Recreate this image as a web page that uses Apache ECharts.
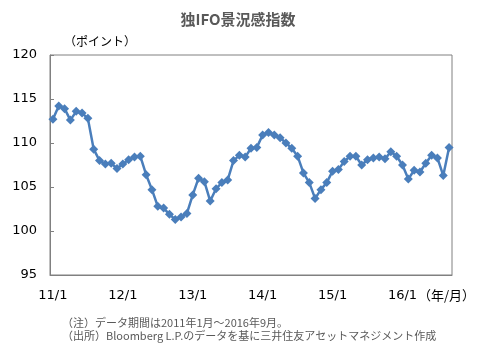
<!DOCTYPE html>
<html>
<head>
<meta charset="utf-8">
<script src="https://cdn.jsdelivr.net/npm/echarts@6/dist/echarts.min.js"></script>
<style>html,body{margin:0;padding:0;background:#fff;}#c{width:486px;height:359px;}</style>
</head>
<body>
<div id="c"></div>
<script>
// Monthly, 2011/1 .. 2016/9
const startYear = 2011;
const monthCount = 69;
const values = [
  112.7, 114.2, 113.9, 112.6, 113.6, 113.4, 112.8, 109.3, 108.0, 107.6, 107.7, 107.1,
  107.6, 108.1, 108.4, 108.5, 106.4, 104.7, 102.8, 102.6, 101.9, 101.3, 101.6, 102.0,
  104.1, 106.0, 105.6, 103.4, 104.8, 105.5, 105.8, 108.0, 108.6, 108.4, 109.4, 109.5,
  110.9, 111.2, 110.9, 110.6, 110.0, 109.4, 108.5, 106.6, 105.5, 103.7, 104.7, 105.5,
  106.8, 107.0, 107.9, 108.5, 108.5, 107.5, 108.1, 108.3, 108.4, 108.2, 109.0, 108.5,
  107.5, 105.9, 106.9, 106.7, 107.7, 108.6, 108.3, 106.3, 109.5
];
const yTicks = [95, 100, 105, 110, 115, 120];
const categories = [];
for (let i = 0; i < monthCount; i++) {
  const y = startYear + Math.floor(i / 12);
  const m = (i % 12) + 1;
  categories.push(String(y).slice(2) + '/' + m);
}
const titleText = '独IFO景況感指数';
const unitText = '（ポイント）';
const xUnitText = '（年/月）';
const notes = ['（注）データ期間は2011年1月～2016年9月。', '（出所）Bloomberg L.P.のデータを基に三井住友アセットマネジメント作成'];

const chart = echarts.init(document.getElementById('c'), null, {renderer: 'canvas'});
const jp = '"Noto Sans CJK JP", "DejaVu Sans", sans-serif';
const num = '"DejaVu Sans", sans-serif';
const showLabel = (idx) => idx % 12 === 0;
chart.setOption({
  animation: false,
  backgroundColor: '#ffffff',
  title: {
    text: titleText, left: 233, top: 7, textAlign: 'center',
    textStyle: {fontFamily: jp, fontSize: 15, fontWeight: 'bold', color: '#595959'}
  },
  grid: {left: 50, right: 34, top: 55, bottom: 84, show: true, borderColor: '#808080', borderWidth: 1},
  xAxis: {
    type: 'category', data: categories, boundaryGap: true,
    axisLine: {lineStyle: {color: '#808080', width: 1}},
    axisTick: {inside: true, length: 4, interval: showLabel, lineStyle: {color: '#808080'}},
    axisLabel: {interval: showLabel, margin: 14, fontFamily: num, fontSize: 13, color: '#000'},
    splitLine: {show: false}
  },
  yAxis: {
    type: 'value', min: yTicks[0], max: yTicks[yTicks.length - 1], interval: 5,
    axisLine: {show: true, lineStyle: {color: '#808080', width: 1}},
    axisTick: {show: true, inside: true, length: 4, lineStyle: {color: '#808080'}},
    axisLabel: {margin: 13, fontFamily: num, fontSize: 13, color: '#000'},
    splitLine: {show: false}
  },
  series: [{
    type: 'line', data: values,
    symbol: 'diamond', symbolSize: 9, showSymbol: true, showAllSymbol: true,
    lineStyle: {color: '#4A7EBB', width: 2.5},
    itemStyle: {color: '#4A7EBB'}
  }],
  graphic: [
    {type: 'text', left: 64, top: 35, style: {text: unitText, fontFamily: jp, fontSize: 12, fill: '#000'}},
    {type: 'text', left: 418, top: 289, style: {text: xUnitText, fontFamily: jp, fontSize: 13, fill: '#000'}},
    {type: 'text', left: 62, top: 317, style: {text: notes[0], fontFamily: jp, fontSize: 11, fill: '#595959'}},
    {type: 'text', left: 62, top: 330, style: {text: notes[1], fontFamily: jp, fontSize: 11, fill: '#595959'}}
  ]
});
</script>
</body>
</html>
